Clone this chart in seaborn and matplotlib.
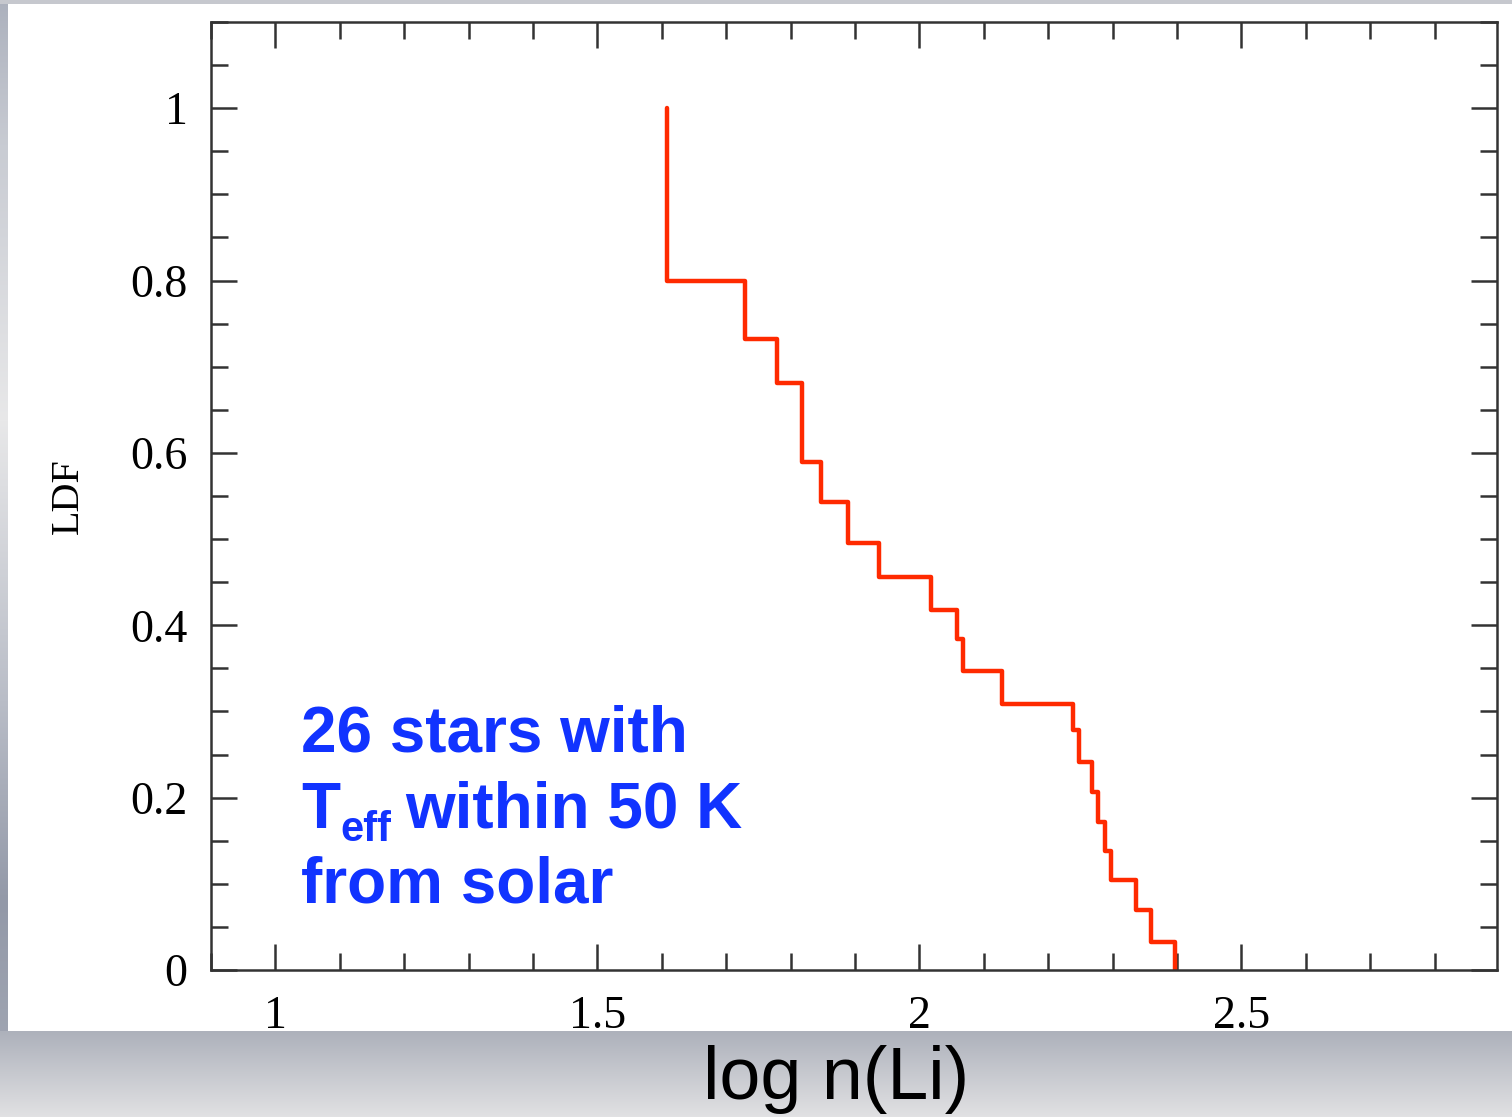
import numpy as np
import pandas as pd
import matplotlib
matplotlib.use("Agg")
import matplotlib.pyplot as plt
from matplotlib.ticker import MultipleLocator, FixedLocator, FixedFormatter
import seaborn as sns

# Lithium distribution function (LDF) of solar-temperature stars.
# The curve starts at LDF = 1 and drops at each abundance value below.
li_start = 1.608
ldf_start = 1.0
li_steps = [1.608, 1.729, 1.779, 1.818, 1.848, 1.889, 1.938, 2.018, 2.058,
            2.068, 2.128, 2.238, 2.248, 2.268, 2.278, 2.289, 2.297, 2.337,
            2.359, 2.397]
ldf_levels = [0.800, 0.732, 0.681, 0.589, 0.543, 0.496, 0.456, 0.418, 0.384,
              0.347, 0.309, 0.278, 0.241, 0.207, 0.172, 0.138, 0.104, 0.070,
              0.033, 0.0]

x_major = [1.0, 1.5, 2.0, 2.5]
x_labels = ["1", "1.5", "2", "2.5"]
y_major = [0.0, 0.2, 0.4, 0.6, 0.8, 1.0]
y_labels = ["0", "0.2", "0.4", "0.6", "0.8", "1"]

note_first = "26 stars with"
note_symbol, note_sub, note_rest = "T", "eff", "within 50 K"
note_last = "from solar"

df = pd.DataFrame({"logLi": [li_start] + li_steps,
                   "LDF": [ldf_start] + ldf_levels})

sns.set_theme(style="ticks")
plt.rcParams["font.family"] = ["Liberation Serif", "DejaVu Serif"]

W, H = 1512, 1117
fig = plt.figure(figsize=(W / 100, H / 100), dpi=100)

# Slide-style grey frame around the white plot panel
def hex_rgb(h):
    h = h.lstrip("#")
    return np.array([int(h[i:i + 2], 16) / 255 for i in (0, 2, 4)])

img = np.ones((H, W, 3))
rows = np.arange(H)
left_y = [0, 150, 420, 700, 900, H]
left_c = [hex_rgb(c) for c in ["#acb1bd", "#c9ccd3", "#e8e8e9", "#b9bdc7",
                                "#9399a8", "#a6abb6"]]
left_col = np.stack([np.interp(rows, left_y, [c[k] for c in left_c])
                     for k in range(3)], axis=1)
img[:, :8, :] = left_col[:, None, :]
img[:4, :, :] = hex_rgb("#c6c8ce")
b0, b1 = hex_rgb("#adb1bb"), hex_rgb("#e1e1e3")
t = np.linspace(0, 1, H - 1031)[:, None]
img[1031:, :, :] = (b0 * (1 - t) + b1 * t)[:, None, :]

bg = fig.add_axes([0, 0, 1, 1], zorder=-5)
bg.imshow(img, aspect="auto", interpolation="bilinear")
bg.set_axis_off()

ax = fig.add_axes([211 / W, 1 - 970 / H, (1497 - 211) / W, (970 - 22) / H])
ax.set_facecolor("white")

sns.lineplot(data=df, x="logLi", y="LDF", ax=ax, estimator=None, sort=False,
             drawstyle="steps-post", color="#ff2a00", linewidth=3.2)

ax.set_xlim(0.9, 2.897)
ax.set_ylim(0.0, 1.1)

ax.xaxis.set_major_locator(FixedLocator(x_major))
ax.xaxis.set_major_formatter(FixedFormatter(x_labels))
ax.xaxis.set_minor_locator(MultipleLocator(0.1))
ax.yaxis.set_major_locator(FixedLocator(y_major))
ax.yaxis.set_major_formatter(FixedFormatter(y_labels))
ax.yaxis.set_minor_locator(MultipleLocator(0.05))

ax.tick_params(which="both", direction="in", top=True, right=True,
               color="#333333", width=1.8)
ax.tick_params(which="major", length=19)
ax.tick_params(which="minor", length=12)
ax.tick_params(axis="x", which="major", pad=18, labelsize=33, labelcolor="black")
ax.tick_params(axis="y", which="major", pad=17, labelsize=33, labelcolor="black")
for s in ax.spines.values():
    s.set_color("#333333")
    s.set_linewidth(1.8)

ax.set_ylabel("LDF", fontsize=29, family="Liberation Serif", color="black")
ax.yaxis.label.set_va("center")
ax.yaxis.set_label_coords((68.5 - 211) / 1286, 0.5)

ax.set_xlabel("log n(Li)", fontsize=53, family="Liberation Sans", color="black")
ax.xaxis.label.set_va("baseline")
ax.xaxis.set_label_coords((836 - 211) / 1286, (970 - 1099) / 948)

# Blue annotation block
note_kw = dict(fontweight="bold", family="Liberation Sans", color="#1133ff")
ax.text(1.040, 0.253, note_first, fontsize=46, va="baseline", ha="left", **note_kw)
ax.text(1.040, 0.078, note_last, fontsize=46, va="baseline", ha="left", **note_kw)
t_sym = ax.text(1.040, 0.165, note_symbol, fontsize=46, va="baseline",
                ha="left", **note_kw)
t_sub = ax.annotate(note_sub, xy=(1, 0), xycoords=t_sym, xytext=(0, -6.5),
                    textcoords="offset points", fontsize=30, va="bottom",
                    ha="left", **note_kw)
ax.annotate(note_rest, xy=(1, 0), xycoords=(t_sub, t_sym), xytext=(10, 0),
            textcoords="offset points", fontsize=46, va="bottom", ha="left",
            **note_kw)

fig.savefig("out.png", dpi=100)
